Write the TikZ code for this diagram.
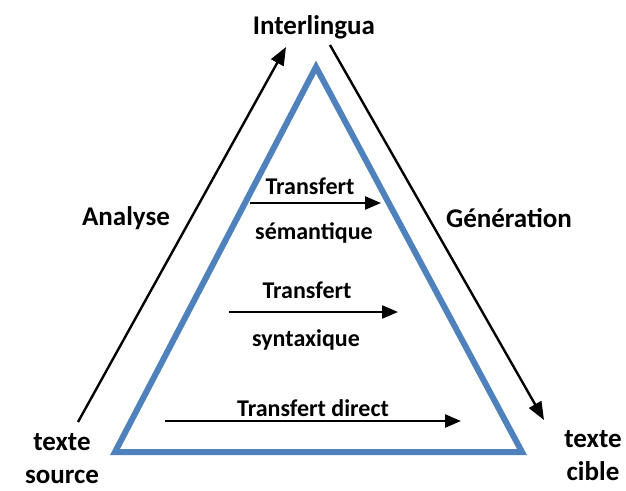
\documentclass[tikz,border=0pt]{standalone}
\usepackage{fontspec}
\setmainfont{Carlito}
\usetikzlibrary{arrows.meta}
\definecolor{pyramid}{RGB}{79,129,189}
\begin{document}
\begin{tikzpicture}[x=1pt,y=-1pt,
  big/.style={font=\bfseries\fontsize{27}{33}\selectfont, inner sep=0pt, align=center},
  small/.style={font=\bfseries\fontsize{24}{26}\selectfont, inner sep=0pt},
  flow/.style={line width=2.4pt, -{Triangle[length=18pt,width=14pt]}},
  level/.style={line width=2.4pt, -{Triangle[length=16pt,width=13pt]}}]
\useasboundingbox (0,0) rectangle (626,490);

% labels
\node[big] (inter) at (314,27) {Interlingua};
\node[big] (ana) at (126,218) {Analyse};
\node[big] (gen) at (509,218) {Génération};
\node[big] (src) at (62,459) {texte\\source};
\node[big] (tgt) at (593,456) {texte\\cible};

% pyramid of translation levels
\draw[pyramid, line width=6pt, line join=miter]
  (316,67) coordinate (apex) -- (115,452) coordinate (bl) -- (522,452) coordinate (br) -- cycle;

% analysis and generation arrows
\coordinate (a0) at (78,422);
\coordinate (a1) at (286,47);
\coordinate (g0) at (330,45);
\coordinate (g1) at (544,420);
\draw[flow] (a0) -- (a1);
\draw[flow] (g0) -- (g1);

% semantic transfer
\coordinate (s0) at (250,203);
\coordinate (s1) at (381,203);
\draw[level] (s0) -- (s1);
\node[small] (semA) at (310,186) {Transfert};
\node[small] (semB) at (314,233) {sémantique};

% syntactic transfer
\coordinate (y0) at (229,312);
\coordinate (y1) at (398,312);
\draw[level] (y0) -- (y1);
\node[small] (synA) at (307,290) {Transfert};
\node[small] (synB) at (306,340) {syntaxique};

% direct transfer
\coordinate (d0) at (165,421);
\coordinate (d1) at (461,421);
\draw[level] (d0) -- (d1);
\node[small] (dir) at (313,408) {Transfert direct};
\end{tikzpicture}
\end{document}
